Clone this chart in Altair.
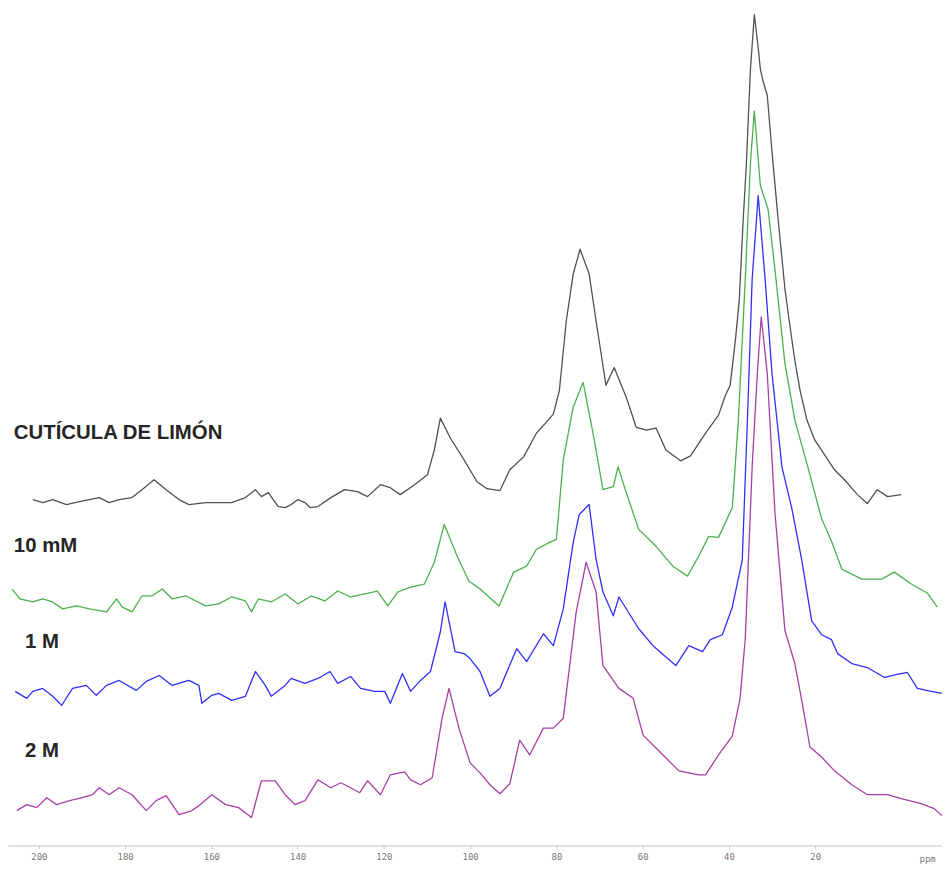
import altair as alt
import pandas as pd

# ---- chemical shift (ppm) and intensity, per spectrum ----
cut_ppm = [201.4, 199.1, 196.8, 193.6, 190.6, 186.0, 183.7, 181.4, 178.4, 176.1, 173.3, 170.5, 167.5, 165.2,
           161.3, 155.3, 152.1, 149.8, 148.4, 146.8, 144.5, 142.9, 141.5, 139.9, 138.3, 137.1, 135.3, 132.3,
           129.1, 126.1, 123.8, 120.8, 118.5, 116.2, 112.9, 109.9, 108.3, 106.9, 104.6, 101.4, 98.4, 96.1,
           93.1, 90.8, 87.6, 84.6, 82.3, 80.7, 79.3, 77.7, 76.1, 74.5, 72.4, 70.8, 68.5, 66.6, 63.8, 61.5,
           59.2, 56.9, 54.6, 51.2, 48.9, 45.4, 42.4, 40.8, 39.7, 38.5, 37.6, 36.7, 36.0, 35.0, 34.1, 33.2,
           32.7, 32.0, 31.1, 30.0, 28.6, 27.0, 26.1, 24.7, 23.5, 21.9, 20.1, 17.8, 15.5, 13.2, 10.2, 7.9,
           5.6, 3.2, 0.0]
cut_int = [0, -3, 0, -5, -2, 2, -3, 0, 2, 10, 20, 10, 0, -5,
           -3, -3, 2, 10, 3, 7, -7, -8, -5, 0, -3, -8, -7, 2,
           10, 8, 3, 15, 12, 5, 15, 25, 50, 82, 62, 40, 18, 11,
           9, 30, 43, 67, 78, 86, 110, 180, 227, 252, 227, 180, 115, 133, 103, 73,
           70, 72, 50, 39, 44, 67, 85, 105, 115, 160, 200, 280, 333, 433, 488, 455,
           433, 420, 407, 350, 283, 212, 183, 140, 110, 80, 60, 45, 30, 20, 5, -4,
           10, 3, 5]

mm10_ppm = [206.2, 204.4, 201.4, 199.1, 196.8, 194.5, 191.3, 188.3, 184.3, 182.0, 180.7, 178.4, 176.1, 173.8,
            171.4, 169.1, 165.9, 161.3, 158.3, 155.3, 152.1, 150.7, 149.1, 146.1, 142.9, 139.9, 136.9, 133.7,
            130.7, 127.7, 124.4, 121.5, 119.1, 116.8, 113.8, 110.6, 108.3, 106.0, 103.0, 100.3, 97.7, 93.3,
            89.9, 86.9, 84.6, 81.6, 80.0, 78.4, 76.1, 73.8, 71.5, 69.2, 66.8, 65.7, 63.8, 60.9, 56.9, 53.0,
            49.6, 47.0, 44.7, 42.4, 39.2, 37.8, 36.2, 35.0, 34.1, 32.7, 30.9, 29.3, 27.0, 24.7, 21.7, 18.5,
            16.2, 13.8, 9.2, 4.6, 1.6, -2.3, -6.0, -8.3]
mm10_int = [10, 0, -3, 0, -3, -10, -7, -10, -13, 0, -8, -13, 3, 3,
            10, 0, 3, -7, -5, 2, -2, -13, 0, -3, 5, -5, 3, -2,
            8, 2, 5, 8, -7, 7, 12, 15, 37, 75, 43, 18, 10, -7,
            27, 33, 50, 57, 60, 140, 193, 218, 167, 110, 113, 133, 107, 70, 53, 33,
            23, 43, 63, 62, 92, 180, 322, 439, 491, 416, 392, 331, 237, 180, 133, 81,
            58, 30, 20, 20, 27, 15, 6, -8]

m1_ppm = [205.5, 202.8, 201.4, 199.1, 196.8, 194.7, 192.2, 189.0, 186.7, 184.3, 181.4, 177.4, 175.1, 172.1,
          169.1, 165.2, 162.9, 162.2, 159.9, 158.3, 155.3, 152.1, 149.8, 147.5, 146.1, 142.9, 141.5, 138.3,
          135.3, 132.5, 130.7, 127.7, 125.4, 122.1, 119.8, 118.5, 115.7, 113.8, 111.5, 109.2, 106.9, 105.8,
          103.5, 101.4, 100.0, 97.7, 95.4, 93.1, 89.2, 86.9, 83.0, 80.7, 78.4, 76.1, 74.7, 72.4, 70.8, 69.2,
          66.8, 65.5, 60.9, 57.6, 52.3, 49.3, 46.1, 44.3, 41.5, 39.2, 36.9, 35.7, 34.6, 33.2, 31.6, 30.0,
          27.7, 25.4, 23.1, 20.8, 18.5, 16.2, 14.8, 11.5, 7.9, 3.9, 1.0, -1.4, -3.7, -6.9, -9.4]
m1_int = [-3, -10, -3, 0, -8, -17, 0, 3, -7, 3, 8, -2, 7, 13,
          3, 8, 3, -15, -7, -5, -12, -8, 17, 3, -8, 3, 10, 5,
          10, 17, 5, 12, 0, -3, -3, -15, 15, -3, 8, 17, 57, 87,
          37, 35, 30, 17, -8, 0, 40, 27, 55, 43, 80, 147, 175, 185, 130, 97,
          73, 92, 60, 43, 23, 43, 37, 49, 54, 82, 129, 270, 412, 496, 412, 317,
          223, 181, 129, 68, 54, 49, 35, 25, 21, 11, 14, 16, 0, -3, -5]

m2_ppm = [205.1, 202.8, 200.5, 198.2, 195.9, 192.9, 189.9, 187.6, 186.0, 183.7, 181.4, 178.4, 175.1, 172.8,
          170.5, 167.5, 164.5, 162.9, 159.9, 156.7, 153.7, 150.7, 148.4, 145.2, 142.9, 140.6, 138.3, 135.3,
          132.3, 130.0, 127.7, 125.6, 123.8, 120.8, 118.5, 115.2, 113.8, 111.5, 108.8, 106.5, 104.9, 102.6,
          100.0, 97.7, 95.4, 93.1, 90.8, 88.5, 86.2, 83.0, 80.7, 78.4, 75.4, 73.1, 70.8, 69.2, 65.5, 62.2,
          59.9, 56.2, 51.6, 47.0, 45.4, 42.4, 39.2, 37.4, 36.2, 34.6, 33.4, 32.5, 31.1, 29.3, 27.0, 24.7,
          23.1, 21.2, 18.5, 15.5, 11.5, 7.9, 3.2, 0.0, -4.6, -7.6, -9.4]
m2_int = [-13, -7, -10, 0, -7, -3, 0, 3, 10, 3, 10, 3, -13, -3,
          2, -17, -13, -8, 3, -7, -10, -20, 17, 17, 3, -7, -3, 18,
          10, 15, 10, 5, 17, 3, 23, 26, 18, 13, 20, 80, 110, 70,
          35, 25, 13, 4, 14, 58, 43, 70, 70, 80, 187, 237, 207, 133, 110, 100,
          63, 47, 27, 23, 23, 43, 62, 100, 160, 333, 427, 484, 427, 286, 168, 135,
          98, 51, 41, 27, 13, 3, 3, -1, -6, -11, -18]

series_names = ["CUTÍCULA DE LIMÓN", "10 mM", "1 M", "2 M"]
series_ppm = [cut_ppm, mm10_ppm, m1_ppm, m2_ppm]
series_int = [cut_int, mm10_int, m1_int, m2_int]
series_offset = [353, 253, 163, 53]          # vertical stacking of the spectra
series_colors = ["#505050", "#4cb04c", "#2f2fff", "#a73fa7"]

label_ppm = [205.8, 205.8, 203.2, 203.2]
label_level = [420, 306, 210, 100]

tick_values = [200, 180, 160, 140, 120, 100, 80, 60, 40, 20]

rows = []
for name, xs, ys, off in zip(series_names, series_ppm, series_int, series_offset):
    for i, (p, v) in enumerate(zip(xs, ys)):
        rows.append({"series": name, "ppm": p, "y": v + off, "i": i})
df = pd.DataFrame(rows)
labels = pd.DataFrame({"series": series_names, "ppm": label_ppm, "y": label_level})

xscale = alt.Scale(domain=[207.16, -9.42], nice=False, zero=False)
yscale = alt.Scale(domain=[5, 845], nice=False, zero=False)
cscale = alt.Scale(domain=series_names, range=series_colors)

lines = alt.Chart(df).mark_line(strokeWidth=1.3, clip=True, strokeJoin="round").encode(
    x=alt.X("ppm:Q", scale=xscale,
            axis=alt.Axis(values=tick_values, format="d", title="ppm", grid=False,
                          domainColor="#cfcfcf", domainWidth=1.2, tickColor="#c0c0c0",
                          tickSize=3, labelPadding=4, labelFont="DejaVu Sans Mono",
                          labelFontSize=9, labelColor="#777777", labelFlush=False,
                          titleFont="DejaVu Sans Mono", titleFontSize=9,
                          titleFontWeight="normal", titleColor="#777777",
                          titleX=925, titleY=13, titleAlign="center",
                          titleBaseline="middle", titleAnchor=None)),
    y=alt.Y("y:Q", scale=yscale, axis=None),
    color=alt.Color("series:N", scale=cscale, legend=None),
    detail="series:N",
    order="i:Q",
)

texts = alt.Chart(labels).mark_text(
    align="left", baseline="middle", font="Liberation Sans", fontSize=20.5,
    fontWeight="bold", color="#262626"
).encode(
    x=alt.X("ppm:Q", scale=xscale),
    y=alt.Y("y:Q", scale=yscale),
    text="series:N",
)

chart = alt.layer(lines, texts).properties(
    width=940, height=840,
    autosize=alt.AutoSizeParams(type="none"),
    padding={"left": 0, "top": 0, "right": 0, "bottom": 18},
    background="white",
).configure_view(stroke=None, strokeWidth=0)

chart.save("out.html", embed_options={"renderer": "svg", "actions": False})
